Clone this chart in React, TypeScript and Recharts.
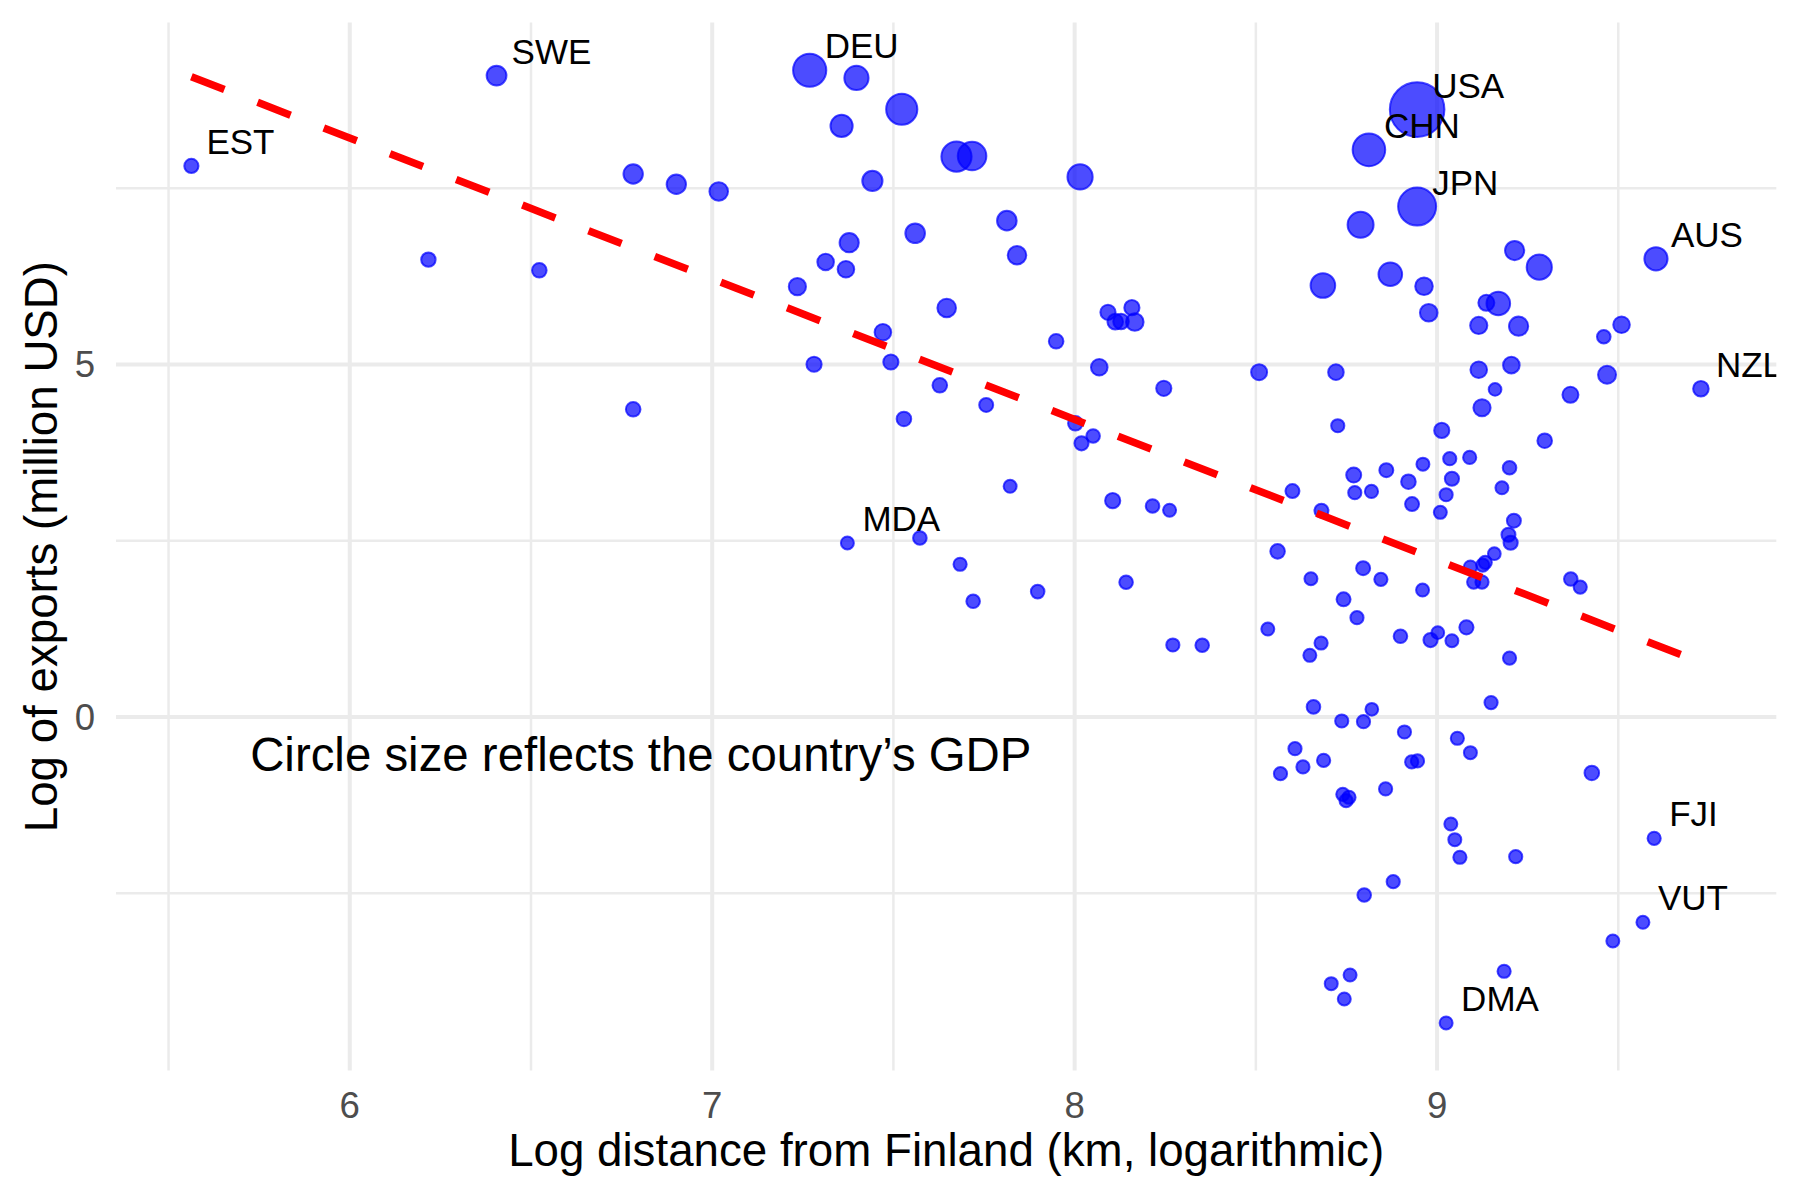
import React from "react";
import {
  ScatterChart,
  Scatter,
  XAxis,
  YAxis,
  ZAxis,
  ReferenceLine,
  ReferenceDot,
} from "recharts";

// first 12 entries of the arrays below are the labelled countries
const countryCodes = ["EST", "SWE", "DEU", "USA", "CHN", "JPN", "AUS", "NZL", "MDA", "FJI", "VUT", "DMA"];

// log distance from Finland
const logDistance = [
  5.563, 6.405, 7.269, 8.945, 8.812, 8.945, 9.604, 9.728, 7.373, 9.599, 9.568, 9.025,
  6.217, 6.523, 6.782, 6.901, 6.782, 7.018, 7.398, 7.523, 7.357, 7.674,
  7.717, 7.442, 8.015, 7.813, 7.56, 7.841, 7.378, 7.313, 7.369, 7.235,
  7.647, 7.471, 7.281, 7.493, 7.628, 7.756, 7.529, 7.949, 8.068, 8.246,
  8.092, 8.158, 8.112, 8.128, 8.166, 8.002, 8.051, 8.019, 7.822, 8.105,
  8.215, 8.262, 7.573, 7.684, 7.72, 7.898, 8.142, 8.271, 8.352, 8.509,
  8.789, 9.214, 9.282, 8.685, 8.871, 8.964, 9.136, 9.169, 8.977, 9.115,
  9.225, 9.509, 9.46, 8.721, 9.115, 9.205, 9.469, 9.16, 9.368, 9.124,
  8.726, 9.013, 9.297, 9.035, 9.09, 8.961, 8.86, 8.77, 9.2, 8.921,
  9.041, 8.601, 8.773, 8.819, 9.025, 9.179, 8.931, 9.009, 8.681, 9.212,
  9.197, 9.203, 8.56, 9.158, 9.133, 9.126, 9.092, 9.101, 9.124, 8.796,
  8.652, 8.845, 8.96, 8.742, 9.369, 9.395, 8.779, 8.533, 9.081, 8.899,
  9.002, 8.982, 9.041, 8.68, 8.649, 9.2, 9.149, 8.659, 8.82, 8.737,
  8.797, 8.91, 9.056, 9.092, 8.608, 8.687, 8.63, 8.568, 8.93, 8.946,
  9.427, 8.74, 8.757, 8.749, 8.858, 9.038, 9.049, 9.063, 9.217, 8.879,
  8.799, 9.485, 9.185, 8.76, 8.708, 8.744,
];

// log of exports (million USD)
const logExports = [
  7.816, 9.097, 9.173, 8.615, 8.044, 7.24, 6.499, 4.655, 2.468, -1.721, -2.912, -4.34,
  6.487, 6.336, 7.702, 7.556, 4.364, 7.454, 9.064, 8.62, 8.383, 7.948,
  7.957, 7.603, 7.66, 7.04, 6.861, 6.549, 6.728, 6.454, 6.35, 6.104,
  5.801, 5.457, 5.003, 5.035, 4.705, 4.426, 4.227, 5.329, 4.96, 4.662,
  5.74, 5.806, 5.607, 5.61, 5.603, 4.166, 3.986, 3.882, 3.272, 3.068,
  2.993, 2.932, 2.539, 2.166, 1.641, 1.778, 1.911, 1.021, 1.017, 4.89,
  6.981, 6.616, 6.38, 6.12, 6.28, 6.11, 5.875, 5.865, 5.733, 5.553,
  5.543, 5.563, 5.393, 4.891, 4.925, 4.99, 4.854, 4.646, 4.57, 4.386,
  4.131, 4.064, 3.918, 3.663, 3.681, 3.586, 3.501, 3.431, 3.535, 3.337,
  3.379, 3.204, 3.181, 3.199, 3.152, 3.251, 3.019, 2.902, 2.926, 2.784,
  2.585, 2.471, 2.349, 2.316, 2.193, 2.155, 2.126, 1.914, 1.914, 2.111,
  1.961, 1.952, 1.8, 1.668, 1.956, 1.842, 1.408, 1.247, 1.271, 1.144,
  1.196, 1.091, 1.082, 1.049, 0.874, 0.835, 0.204, 0.143, 0.109, -0.057,
  -0.067, -0.213, -0.302, -0.506, -0.45, -0.615, -0.709, -0.804, -0.638, -0.624,
  -0.794, -1.097, -1.139, -1.187, -1.021, -1.518, -1.74, -1.99, -1.981, -2.336,
  -2.525, -3.177, -3.607, -3.66, -3.783, -4.0,
];

// GDP, billion USD (drives circle size)
const gdpBillions = [
  316, 1730, 7019, 21000, 6725, 9561, 2821, 626, 73, 112, 73, 73,
  360, 400, 1617, 1600, 400, 1390, 3174, 6060, 2483, 5603,
  4903, 1853, 3542, 1674, 1674, 1390, 1559, 866, 866, 1018,
  1390, 866, 535, 535, 402, 274, 402, 402, 866, 535,
  535, 535, 626, 626, 1121, 402, 192, 316, 73, 535,
  192, 73, 192, 112, 192, 192, 192, 112, 192, 721,
  3847, 1559, 3542, 3319, 2960, 1121, 721, 2960, 1121, 1018,
  1559, 866, 192, 626, 866, 866, 1227, 20, 721, 1018,
  112, 535, 402, 112, 112, 73, 274, 490, 192, 402,
  316, 274, 112, 112, 112, 73, 274, 73, 274, 274,
  274, 316, 402, 20, 112, 112, 112, 112, 112, 274,
  73, 112, 73, 274, 192, 112, 112, 73, 316, 192,
  20, 316, 73, 112, 73, 112, 112, 192, 20, 112,
  112, 112, 112, 73, 112, 112, 112, 112, 112, 112,
  402, 112, 112, 112, 112, 73, 73, 112, 112, 112,
  192, 73, 112, 73, 73, 73,
];

// fitted trend line end points
const trendDistance = [5.563, 9.728];
const trendExports = [9.082, 0.773];

const xTicks = [6, 7, 8, 9];
const xMinor = [5.5, 6.5, 7.5, 8.5, 9.5];
const yTicks = [0, 5];
const yMinor = [-2.5, 2.5, 7.5];

const points = logDistance.map((x, i) => ({ x, y: logExports[i], gdp: gdpBillions[i] }));
const labelled = countryCodes.map((code, i) => ({ ...points[i], code }));
const trend = trendDistance.map((x, i) => ({ x, y: trendExports[i] }));

const FONT = "'Liberation Sans', Arial, Helvetica, sans-serif";
const GRID = "#EBEBEB";

const CountryLabel = (props: any) => (
  <text x={props.cx + 15} y={props.cy - 12} fontSize={35} fill="#000" fontFamily={FONT}>
    {props.payload.code}
  </text>
);

const XTitle = (props: any) => {
  const vb = props.viewBox;
  return (
    <text x={vb.x + vb.width / 2} y={vb.y + 95.4} textAnchor="middle" fontSize={45.7} fill="#000" fontFamily={FONT}>
      Log distance from Finland (km, logarithmic)
    </text>
  );
};

const YTitle = (props: any) => {
  const vb = props.viewBox;
  const cy = vb.y + vb.height / 2;
  return (
    <text x={57} y={cy} transform={`rotate(-90, 57, ${cy})`} textAnchor="middle" fontSize={45.7} fill="#000" fontFamily={FONT}>
      Log of exports (million USD)
    </text>
  );
};

export default function App() {
  return (
    <div style={{ position: "absolute", left: 0, top: 0, width: 1800, height: 1200, background: "#fff", fontFamily: FONT }}>
      <ScatterChart width={1800} height={1200} margin={{ top: 22.6, right: 23.7, bottom: 0, left: 0 }}>
        <XAxis
          type="number"
          dataKey="x"
          domain={[5.355, 9.936]}
          ticks={xTicks}
          allowDataOverflow
          height={129.4}
          axisLine={false}
          tickLine={false}
          tickSize={0}
          tickMargin={21}
          tick={{ fill: "#4D4D4D", fontSize: 36.6 }}
          label={XTitle}
        />
        <YAxis
          type="number"
          dataKey="y"
          domain={[-5.016, 9.849]}
          ticks={yTicks}
          allowDataOverflow
          width={116}
          axisLine={false}
          tickLine={false}
          tickSize={0}
          tickMargin={21}
          tick={{ fill: "#4D4D4D", fontSize: 36.6 }}
          label={YTitle}
        />
        <ZAxis type="number" dataKey="gdp" domain={[0, 21000]} range={[125, 2341]} />

        {xMinor.map((v) => (
          <ReferenceLine key={"xm" + v} x={v} stroke={GRID} strokeWidth={2.5} />
        ))}
        {yMinor.map((v) => (
          <ReferenceLine key={"ym" + v} y={v} stroke={GRID} strokeWidth={2.5} />
        ))}
        {xTicks.map((v) => (
          <ReferenceLine key={"xM" + v} x={v} stroke={GRID} strokeWidth={4} />
        ))}
        {yTicks.map((v) => (
          <ReferenceLine key={"yM" + v} y={v} stroke={GRID} strokeWidth={4} />
        ))}

        <Scatter
          data={points}
          fill="blue"
          fillOpacity={0.7}
          stroke="blue"
          strokeOpacity={0.7}
          strokeWidth={2}
          isAnimationActive={false}
        />
        <Scatter
          data={trend}
          fill="red"
          line={{ stroke: "red", strokeWidth: 7.5, strokeDasharray: "35.4 35.6" }}
          shape={() => <g />}
          isAnimationActive={false}
        />
        <Scatter data={labelled} shape={CountryLabel} isAnimationActive={false} />

        <ReferenceDot
          x={6.803}
          y={-0.53}
          r={0}
          fill="none"
          stroke="none"
          label={{ value: "Circle size reflects the country’s GDP", position: "center", fontSize: 47.4, fill: "#000" }}
        />
      </ScatterChart>
    </div>
  );
}
